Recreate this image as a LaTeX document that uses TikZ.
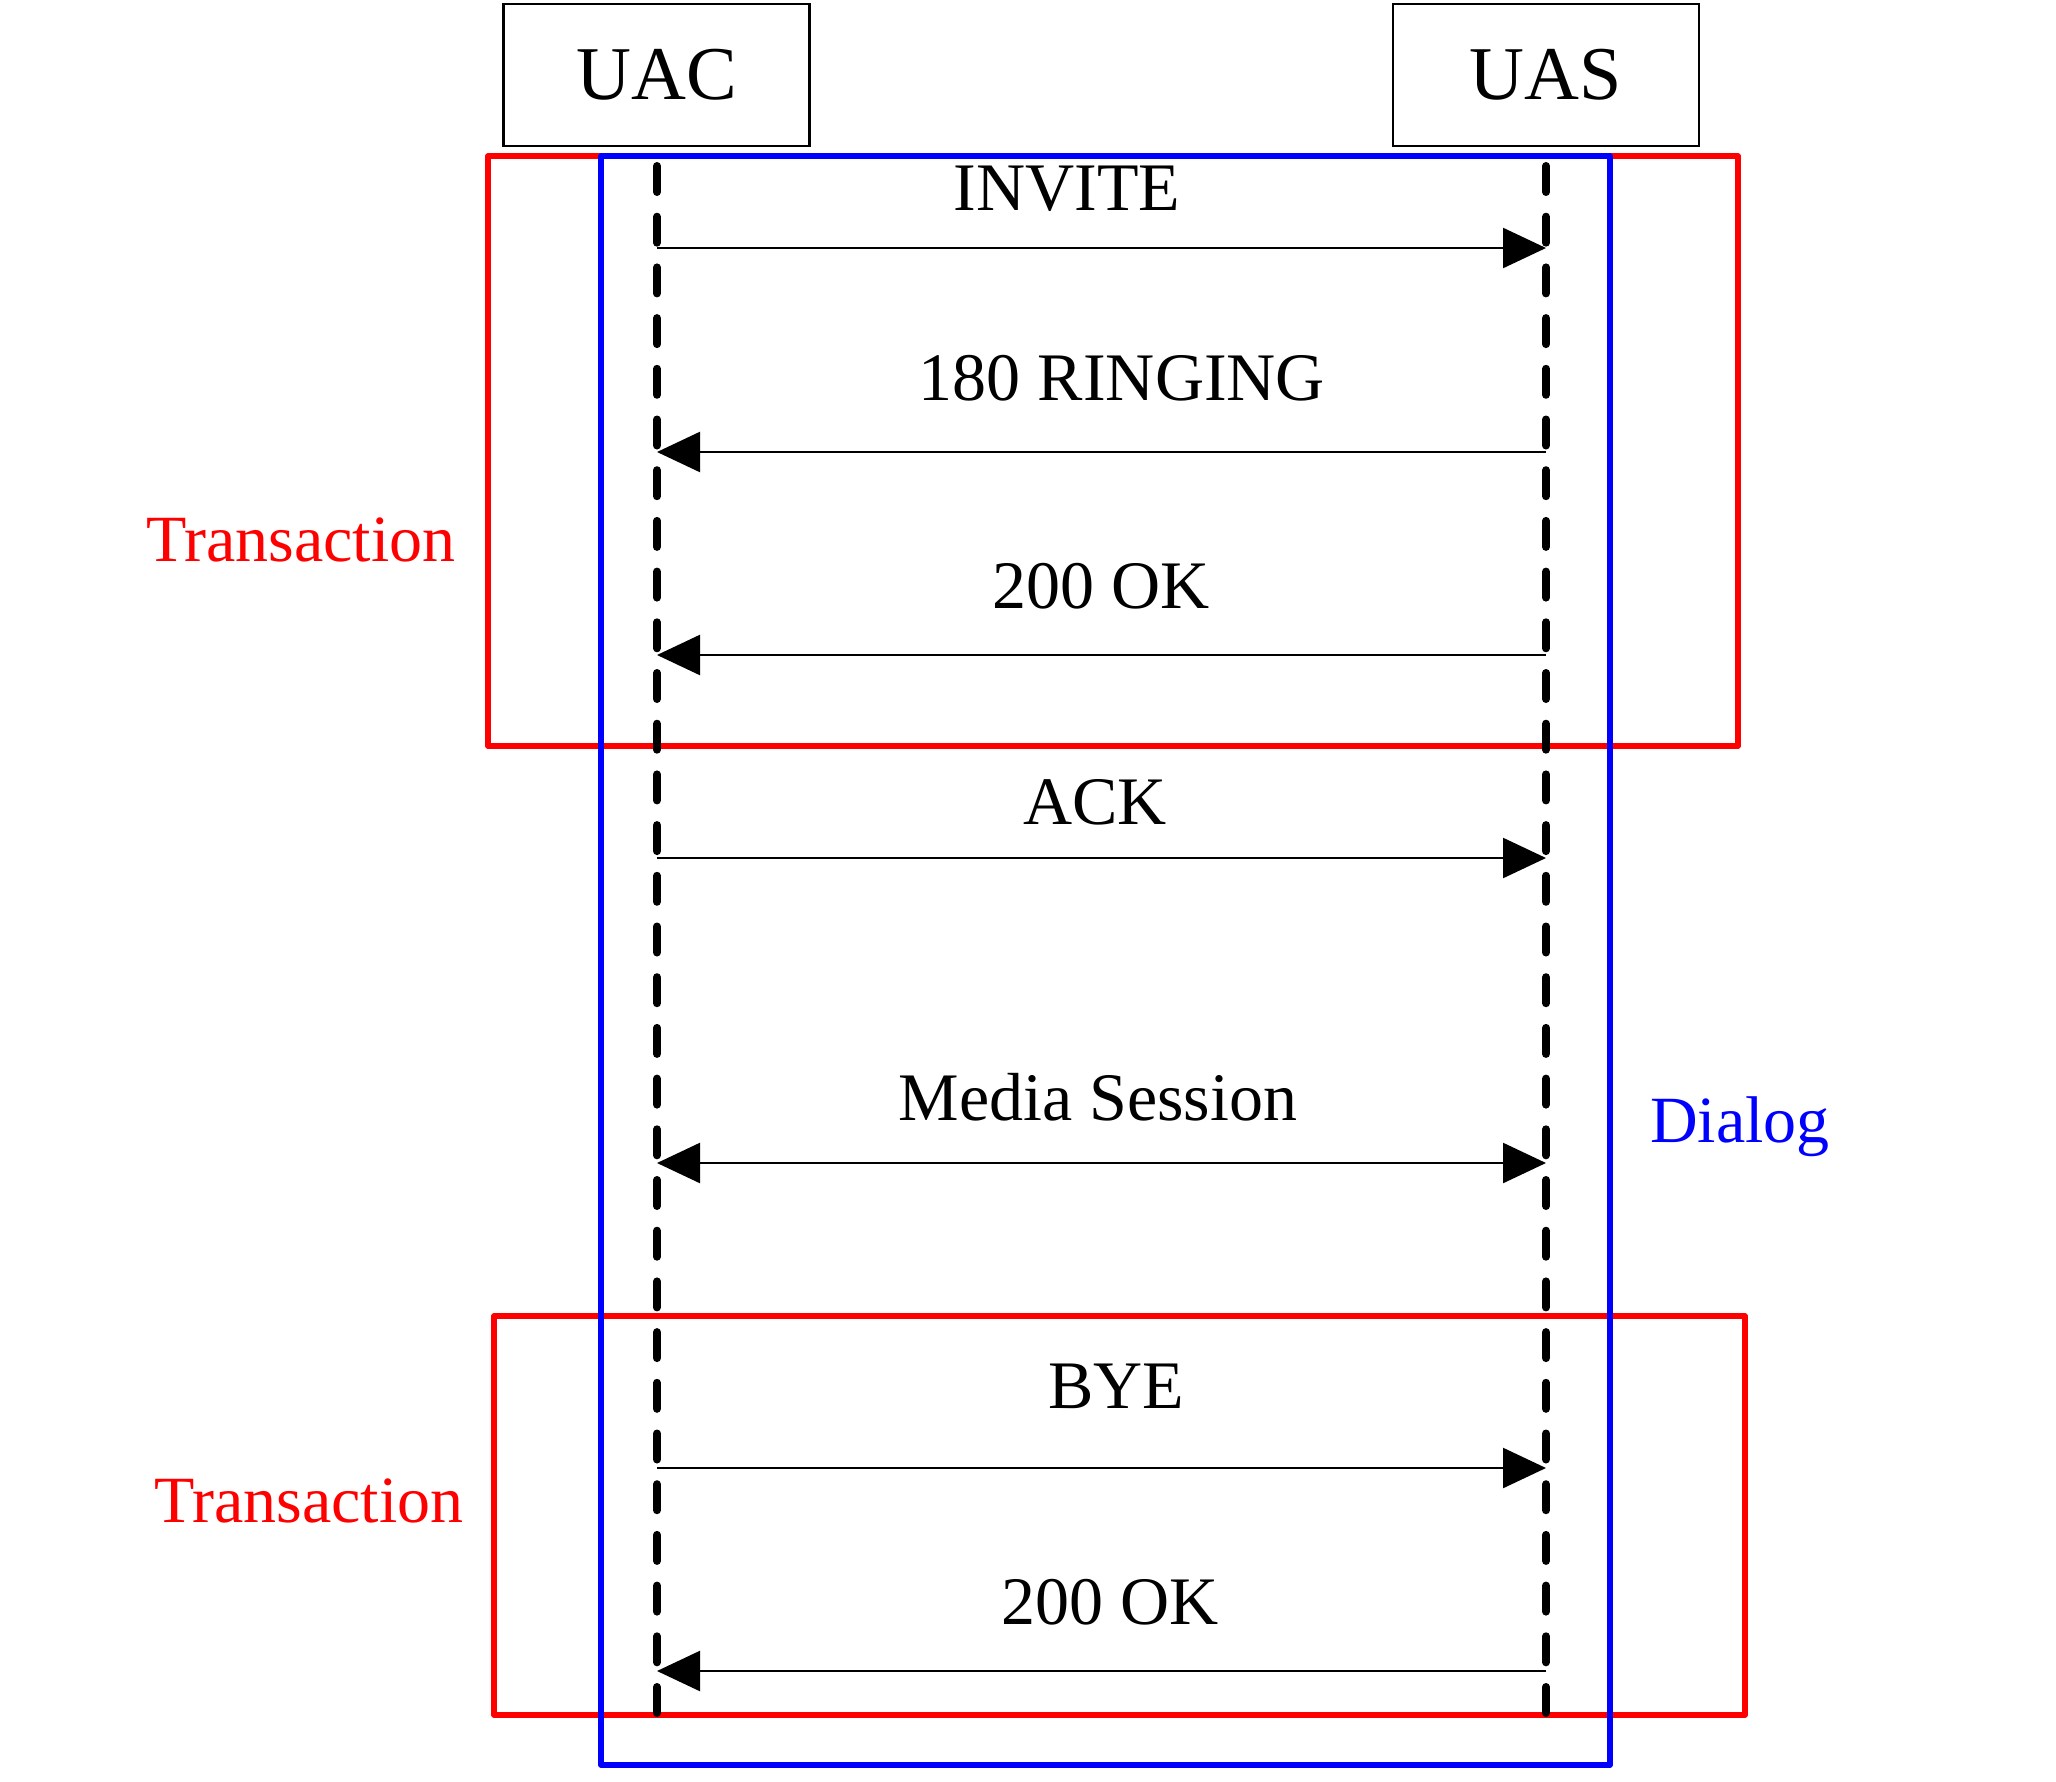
\documentclass[tikz,border=0pt]{standalone}
\usepackage{fontspec}
\setmainfont{Liberation Serif}
\usetikzlibrary{arrows.meta}
\begin{document}
\begin{tikzpicture}[x=1pt,y=-1pt,
  actor/.style={draw,line width=2.8pt,minimum width=306pt,minimum height=142pt,inner sep=0pt,font=\fontsize{76}{90}\selectfont},
  lifeline/.style={line width=8pt,line cap=round,dash pattern=on 26pt off 24.7pt},
  msg/.style={line width=2.4pt,-{Triangle[length=43pt,width=40pt]}},
  bimsg/.style={line width=2.4pt,{Triangle[length=43pt,width=40pt]}-{Triangle[length=43pt,width=40pt]}},
  lbl/.style={anchor=base,inner sep=0pt,font=\fontsize{68}{80}\selectfont},
  grp/.style={anchor=base,inner sep=0pt,font=\fontsize{66}{78}\selectfont},
  trbox/.style={draw=red,line width=5.5pt,line join=round},
  dlbox/.style={draw=blue,line width=5.5pt,line join=round}]
\useasboundingbox (0,0) rectangle (2056,1782);

% actors
\node[actor] (uac) at (656.5,75) {UAC};
\node[actor] (uas) at (1546,75) {UAS};

% group boxes
\draw[trbox] (488,156) rectangle (1738,746);
\draw[trbox] (494,1316) rectangle (1745,1715);
\draw[dlbox] (601,156) rectangle (1610,1765);

% lifelines
\coordinate (uacTop) at (657,166);
\coordinate (uacBot) at (657,1718);
\coordinate (uasTop) at (1546,166);
\coordinate (uasBot) at (1546,1718);
\draw[lifeline] (uacTop) -- (uacBot);
\draw[lifeline] (uasTop) -- (uasBot);

% message anchor points
\foreach \i/\y in {1/248,2/452,3/655,4/858,5/1163,6/1468,7/1671}{
  \coordinate (c\i) at (657,\y);
  \coordinate (s\i) at (1546,\y);
}

\draw[msg] (c1) -- (s1);
\draw[msg] (s2) -- (c2);
\draw[msg] (s3) -- (c3);
\draw[msg] (c4) -- (s4);
\draw[bimsg] (c5) -- (s5);
\draw[msg] (c6) -- (s6);
\draw[msg] (s7) -- (c7);

% labels
\node[lbl] (l1) at (1067,210) {INVITE};
\node[lbl] (l2) at (1122,400) {180 RINGING};
\node[lbl] (l3) at (1101,608) {200 OK};
\node[lbl] (l4) at (1095,824) {ACK};
\node[lbl] (l5) at (1098,1120) {Media Session};
\node[lbl] (l6) at (1116,1408) {BYE};
\node[lbl] (l7) at (1110,1624) {200 OK};

\node[grp,text=red] (t1) at (301,561) {Transaction};
\node[grp,text=red] (t2) at (309,1522) {Transaction};
\node[grp,text=blue] (dlg) at (1740,1142) {Dialog};
\end{tikzpicture}
\end{document}
